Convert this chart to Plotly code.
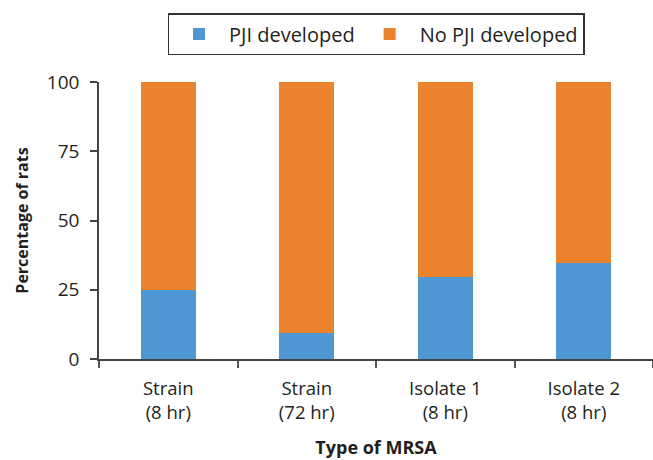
import plotly.graph_objects as go

categories = ["Strain<br>(8 hr)", "Strain<br>(72 hr)", "Isolate 1<br>(8 hr)", "Isolate 2<br>(8 hr)"]
pji_developed = [25, 9.5, 29.5, 34.5]
no_pji_developed = [100 - v for v in pji_developed]
y_ticks = [0, 25, 50, 75, 100]

FONT = "Open Sans"
TXT = "#231f20"

fig = go.Figure()
fig.add_trace(go.Bar(x=categories, y=pji_developed, name="PJI developed",
                     marker=dict(color="#4F97D3", line=dict(width=0))))
fig.add_trace(go.Bar(x=categories, y=no_pji_developed, name="No PJI developed",
                     marker=dict(color="#EA822E", line=dict(width=0))))

fig.update_layout(
    barmode="stack",
    bargap=0.6,
    width=653, height=460,
    margin=dict(l=99, r=0, t=82, b=101, autoexpand=False),
    plot_bgcolor="white", paper_bgcolor="white",
    font=dict(family=FONT, size=18, color=TXT),
    legend=dict(orientation="h", x=0.5, xanchor="center", xref="paper",
                y=1 - 34 / 460, yref="container", yanchor="middle",
                bordercolor="#333333", borderwidth=1.5,
                font=dict(size=20, color=TXT), traceorder="normal",
                itemwidth=50),
    showlegend=True,
)

fig.update_xaxes(
    showline=True, linecolor="#444444", linewidth=2,
    ticks="outside", tickson="boundaries", ticklen=7, tickcolor="#555555", tickwidth=2,
    range=[-0.5, 3.5], automargin=False, ticklabelstandoff=12,
    title=dict(text="<b>Type of MRSA</b>", font=dict(size=18, color=TXT), standoff=18),
    tickfont=dict(size=18.5, color=TXT),
)
fig.update_yaxes(
    range=[0, 100], tickvals=y_ticks, automargin=False,
    showline=True, linecolor="#444444", linewidth=1.5,
    ticks="outside", ticklen=7, tickcolor="#444444", tickwidth=1.5,
    ticklabelstandoff=7,
    showgrid=False, zeroline=False,
    title=dict(text="<b>Percentage of rats</b>", font=dict(size=16, color=TXT), standoff=14),
    tickfont=dict(size=19, color=TXT),
)

fig.write_html("out.html", config={"displayModeBar": False},
               post_script="document.body.style.margin='0';")
